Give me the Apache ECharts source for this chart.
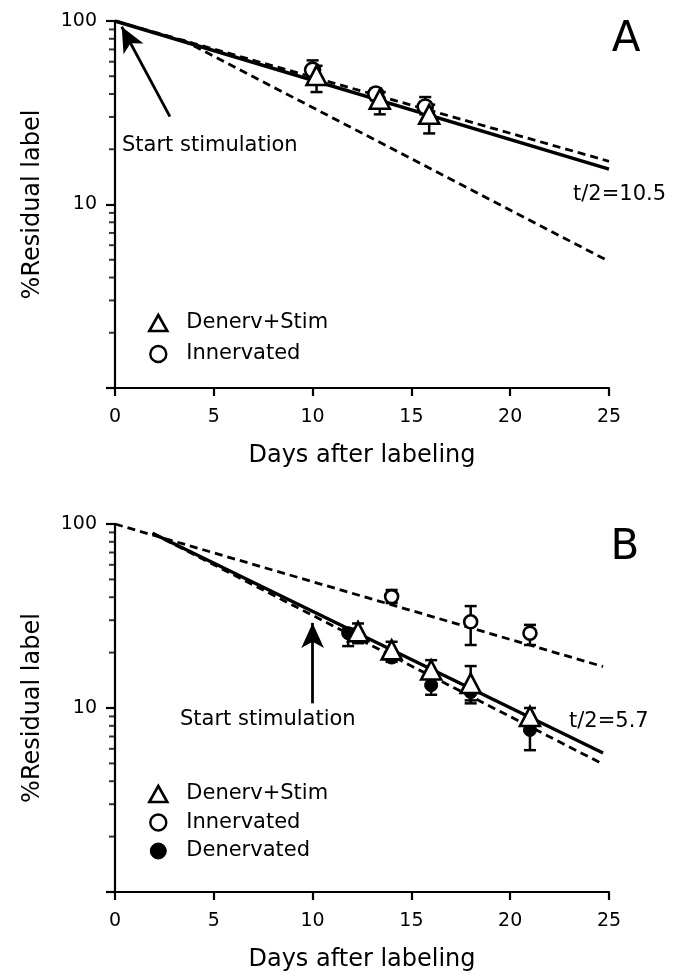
<!DOCTYPE html>
<html>
<head>
<meta charset="utf-8">
<script src="https://cdn.jsdelivr.net/npm/echarts@6/dist/echarts.min.js"></script>
<style>
  html, body { margin: 0; background: #fff; }
  #main { width: 676px; height: 978px; }
</style>
</head>
<body>
<div id="main"></div>
<script>
// ---- panel A : fitted lines (days, % residual label) ----
var aSolidDays = [0, 25];
var aSolidVals = [100, 15.6];
var aDashDays = [0, 25];
var aDashVals = [100, 17.2];
var aSteepDays = [3.4, 25];
var aSteepVals = [79, 4.9];

// panel A points (mean, error bar low/high)
var aStimDays = [10.2, 13.4, 15.9];
var aStimVals = [50.5, 37.5, 31];
var aStimLow = [41, 31, 24.4];
var aStimHigh = [57, 41, 35];
var aInnDays = [10.0, 13.2, 15.7];
var aInnVals = [54, 40, 34];
var aInnLow = [49, 37, 31];
var aInnHigh = [61, 43, 38.5];

// ---- panel B : fitted lines ----
var bSolidDays = [1.9, 24.7];
var bSolidVals = [89, 5.7];
var bDashDays = [0, 24.7];
var bDashVals = [100, 16.8];
var bSteepDays = [1.9, 24.7];
var bSteepVals = [89, 4.95];

// panel B points
var bStimDays = [12.3, 14, 16, 18, 21];
var bStimVals = [26, 20.7, 16.1, 13.6, 9.0];
var bStimLow = [22.5, 18.2, 14.5, 11, 8];
var bStimHigh = [28.8, 22.9, 18.2, 16.9, 10.0];
var bDenDays = [11.8, 14, 16, 18, 21];
var bDenVals = [25.5, 18.8, 13.3, 12.2, 7.6];
var bDenLow = [21.7, 17.8, 11.8, 10.6, 5.9];
var bDenHigh = [27, 20, 14.9, 13, 8.5];
var bInnDays = [14, 18, 21];
var bInnVals = [40.3, 29.4, 25.5];
var bInnLow = [37.2, 22, 22];
var bInnHigh = [43.8, 35.8, 28.3];

// "Start stimulation" arrows: [days, value] tail -> head
var aArrowFrom = [2.78, 30.1];
var aArrowTo = [0.34, 93];
var bArrowFrom = [10, 10.6];
var bArrowTo = [10, 29];

// axis ticks
var xMax = 25;
var xStep = 5;
var minorTickVals = [2, 3, 4, 5, 6, 7, 8, 9, 20, 30, 40, 50, 60, 70, 80, 90];

var FONT = 'DejaVu Sans';

function pairs(xs, ys) {
    return xs.map(function (x, i) { return [x, ys[i]]; });
}
function bars(xs, lo, hi) {
    return xs.map(function (x, i) { return [x, lo[i], hi[i]]; });
}

function errorBar(params, api) {
    var top = api.coord([api.value(0), api.value(2)]);
    var bot = api.coord([api.value(0), api.value(1)]);
    var w = 6;
    var st = { stroke: '#000', lineWidth: 2.5 };
    return {
        type: 'group',
        children: [
            { type: 'line', shape: { x1: top[0], y1: top[1], x2: bot[0], y2: bot[1] }, style: st },
            { type: 'line', shape: { x1: top[0] - w, y1: top[1], x2: top[0] + w, y2: top[1] }, style: st },
            { type: 'line', shape: { x1: bot[0] - w, y1: bot[1], x2: bot[0] + w, y2: bot[1] }, style: st }
        ]
    };
}

function lineSeries(idx, xs, ys, dashed, extra) {
    var s = {
        type: 'line',
        xAxisIndex: idx, yAxisIndex: idx,
        data: pairs(xs, ys),
        showSymbol: false, silent: true, z: 2,
        lineStyle: { color: '#000', width: dashed ? 2.8 : 3.4, type: dashed ? [8, 5] : 'solid' }
    };
    if (extra) {
        for (var k in extra) s[k] = extra[k];
    }
    return s;
}

function arrowLine(from, to) {
    return {
        silent: true,
        symbol: ['none', 'arrow'],
        symbolSize: [17, 25],
        label: { show: false },
        lineStyle: { color: '#000', width: 2.8, type: 'solid' },
        data: [[{ coord: from }, { coord: to }]]
    };
}

function errSeries(idx, xs, lo, hi) {
    return {
        type: 'custom',
        xAxisIndex: idx, yAxisIndex: idx,
        renderItem: errorBar,
        encode: { x: 0, y: [1, 2] },
        data: bars(xs, lo, hi),
        silent: true, z: 3
    };
}

var openStyle = { color: '#fff', borderColor: '#000', borderWidth: 2.6, opacity: 1 };
var fillStyle = { color: '#000', borderColor: '#000', borderWidth: 1, opacity: 1 };

function pointSeries(idx, name, xs, ys, symbol, size, style, z) {
    return {
        type: 'scatter', name: name,
        xAxisIndex: idx, yAxisIndex: idx,
        data: pairs(xs, ys),
        symbol: symbol, symbolSize: size,
        itemStyle: style, silent: true, z: z
    };
}

function minorTicks(idx) {
    return {
        type: 'scatter',
        xAxisIndex: idx, yAxisIndex: idx,
        data: minorTickVals.map(function (v) { return [0, v]; }),
        symbol: 'rect', symbolSize: [6, 2], symbolOffset: [-3, 0],
        itemStyle: { color: '#000' },
        clip: false, silent: true, z: 6
    };
}

function xAxisOpt(idx) {
    return {
        type: 'value', gridIndex: idx,
        min: 0, max: xMax, interval: xStep,
        name: 'Days after labeling',
        nameLocation: 'middle', nameGap: 56,
        nameTextStyle: { fontFamily: FONT, fontSize: 24, color: '#000' },
        axisLine: { show: true, onZero: false, lineStyle: { color: '#000', width: 2.2 } },
        axisTick: { show: true, length: 8, lineStyle: { color: '#000', width: 2.2 } },
        axisLabel: { fontFamily: FONT, fontSize: 19, color: '#000', margin: 20 },
        splitLine: { show: false }
    };
}

function yAxisOpt(idx) {
    return {
        type: 'log', logBase: 10, gridIndex: idx,
        min: 1, max: 100,
        name: '%Residual label',
        nameLocation: 'middle', nameGap: 70, nameRotate: 90,
        nameTextStyle: { fontFamily: FONT, fontSize: 24, color: '#000' },
        axisLine: { show: true, lineStyle: { color: '#000', width: 2.2 } },
        axisTick: { show: true, length: 9, lineStyle: { color: '#000', width: 2.2 } },
        axisLabel: {
            fontFamily: FONT, fontSize: 19, color: '#000', margin: 18,
            formatter: function (v) { return v === 1 ? '' : String(v); }
        },
        splitLine: { show: false }
    };
}

function legendOpt(top, gap, items) {
    return {
        orient: 'vertical', left: 143, top: top,
        itemWidth: 18, itemHeight: 16, itemGap: gap,
        selectedMode: false,
        textStyle: { fontFamily: FONT, fontSize: 21, color: '#000', lineHeight: 22, padding: [0, 0, 0, 14] },
        data: items
    };
}

var legStim = { name: 'Denerv+Stim', icon: 'triangle', itemStyle: { color: '#fff', borderColor: '#000', borderWidth: 2.6 } };
var legInn = { name: 'Innervated', icon: 'circle', itemStyle: { color: '#fff', borderColor: '#000', borderWidth: 2.4 } };
var legDen = { name: 'Denervated', icon: 'circle', itemStyle: { color: '#000', borderColor: '#000', borderWidth: 1 } };

function textEl(x, y, text, size, align) {
    return {
        type: 'text', x: x, y: y, silent: true,
        style: {
            text: text, fill: '#000', align: align || 'left', verticalAlign: 'middle',
            font: size + 'px "' + FONT + '"'
        }
    };
}

var myChart = echarts.init(document.getElementById('main'));
var option = {
    animation: false,
    backgroundColor: '#fff',
    grid: [
        { left: 115, top: 21, width: 494, height: 367 },
        { left: 115, top: 524, width: 494, height: 368 }
    ],
    xAxis: [xAxisOpt(0), xAxisOpt(1)],
    yAxis: [yAxisOpt(0), yAxisOpt(1)],
    legend: [
        legendOpt(307, 9, [legStim, legInn]),
        legendOpt(778, 6.5, [legStim, legInn, legDen])
    ],
    graphic: { elements: [
        textEl(626, 40, 'A', 42, 'center'),
        textEl(122, 146, 'Start stimulation', 21),
        textEl(573, 195, 't/2=10.5', 21),
        textEl(625, 548, 'B', 42, 'center'),
        textEl(180, 720, 'Start stimulation', 21),
        textEl(569, 722, 't/2=5.7', 21)
    ] },
    series: [
        // panel A
        lineSeries(0, aSolidDays, aSolidVals, false, { markLine: arrowLine(aArrowFrom, aArrowTo) }),
        lineSeries(0, aDashDays, aDashVals, true),
        lineSeries(0, aSteepDays, aSteepVals, true),
        errSeries(0, aInnDays, aInnLow, aInnHigh),
        errSeries(0, aStimDays, aStimLow, aStimHigh),
        pointSeries(0, 'Innervated', aInnDays, aInnVals, 'circle', 15, openStyle, 4),
        pointSeries(0, 'Denerv+Stim', aStimDays, aStimVals, 'triangle', [20, 19], openStyle, 5),
        minorTicks(0),
        // panel B
        lineSeries(1, bSolidDays, bSolidVals, false, { markLine: arrowLine(bArrowFrom, bArrowTo) }),
        lineSeries(1, bDashDays, bDashVals, true),
        lineSeries(1, bSteepDays, bSteepVals, true),
        errSeries(1, bInnDays, bInnLow, bInnHigh),
        errSeries(1, bDenDays, bDenLow, bDenHigh),
        errSeries(1, bStimDays, bStimLow, bStimHigh),
        pointSeries(1, 'Innervated', bInnDays, bInnVals, 'circle', 13, openStyle, 4),
        pointSeries(1, 'Denervated', bDenDays, bDenVals, 'circle', 13, fillStyle, 4),
        pointSeries(1, 'Denerv+Stim', bStimDays, bStimVals, 'triangle', [20, 19], openStyle, 5),
        minorTicks(1)
    ]
};
myChart.setOption(option);
</script>
</body>
</html>
